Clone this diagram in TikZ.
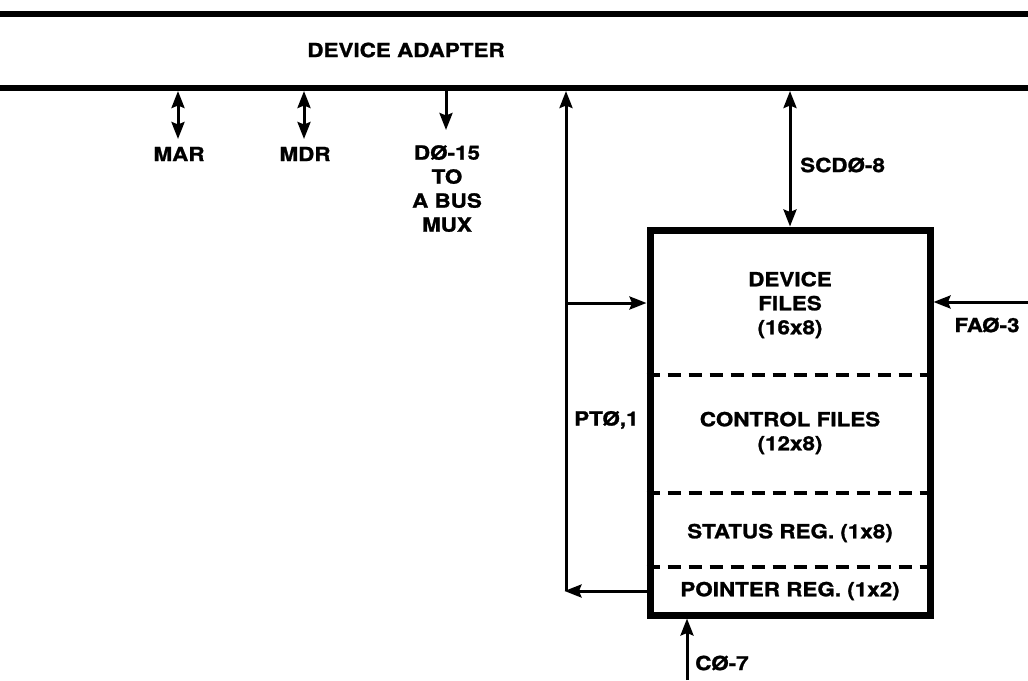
\documentclass[tikz,border=0pt]{standalone}
\usepackage{fontspec}
\setmainfont{TeX Gyre Heros}[FakeStretch=1.15, FakeBold=1.2]
\usetikzlibrary{arrows.meta, positioning}

\begin{document}
\begin{tikzpicture}[
    x=1pt, y=-1pt,
    font=\fontsize{19.5}{24}\selectfont\bfseries,
    bus/.style={line width=6pt},
    sig/.style={-{Stealth[length=17pt,width=13pt,inset=2.5pt]}, line width=3pt},
    dsig/.style={{Stealth[length=17pt,width=13pt,inset=2.5pt]}-{Stealth[length=17pt,width=13pt,inset=2.5pt]}, line width=3pt},
    regbox/.style={draw, line width=7pt, minimum width=280pt, minimum height=385pt, inner sep=0pt},
    sep/.style={line width=3.5pt, dash pattern=on 13pt off 8pt},
    lbl/.style={align=center, inner sep=0pt},
]
\useasboundingbox (0,0) rectangle (1028,680);
% Adapter bus: two heavy rails, title in between
\coordinate (railAl) at (0,14);   \coordinate (railAr) at (1028,14);
\coordinate (railBl) at (0,88);   \coordinate (railBr) at (1028,88);
\draw[bus] (railAl) -- (railAr);
\draw[bus] (railBl) -- (railBr);
\node[lbl] (title) at (406,50) {DEVICE ADAPTER};

% Taps hanging off the lower rail
\coordinate (tapmar) at (178,91);
\coordinate (tapmdr) at (304,91);
\coordinate (tapd)   at (446,91);
\node[lbl] (mar) at (179,154) {MAR};
\node[lbl] (mdr) at (305,154) {MDR};
\node[lbl, anchor=north] (dbus) at (447,145) {DØ-15\\TO\\A BUS\\MUX};
\draw[dsig] (tapmar) -- (178,139);
\draw[dsig] (tapmdr) -- (304,139);
\draw[sig]  (tapd) -- (446,130);

% Register file
\node[regbox] (regs) at (790,422.5) {};
\draw[sep] (regs.west |- 0,375) -- (regs.east |- 0,375);
\draw[sep] (regs.west |- 0,493) -- (regs.east |- 0,493);
\draw[sep] (regs.west |- 0,567) -- (regs.east |- 0,567);
\node[lbl] (devf)  at (790,305) {DEVICE\\FILES\\(16x8)};
\node[lbl] (ctlf)  at (790,433) {CONTROL FILES\\(12x8)};
\node[lbl] (stat)  at (790,533) {STATUS REG. (1x8)};
\node[lbl] (point) at (790,591) {POINTER REG. (1x2)};

% SCD link between rail and register file
\coordinate (tapscd) at (790,91);
\draw[dsig] (tapscd) -- (regs.north);
\node[lbl, anchor=west] (scd) at (800,165) {SCDØ-8};

% Pointer loop on the left
\coordinate (tappt) at (566,91);
\coordinate (ptlow) at (566,591);
\coordinate (ptmid) at (566,303);
\draw[sig] (ptlow) -- (tappt);
\draw[sig] (regs.west |- ptlow) -- ([xshift=-1.5pt]ptlow);
\draw[sig] (ptmid) -- (regs.west |- ptmid);
\node[lbl, anchor=west] (pt) at (574,420) {PTØ,1};

% Inputs from the right and from below
\coordinate (fain) at (1028,302);
\draw[sig] (fain) -- (regs.east |- fain);
\node[lbl] (fa) at (987,325) {FAØ-3};
\coordinate (cin) at (687,680);
\draw[sig] (cin) -- (regs.south -| cin);
\node[lbl, anchor=west] (cc) at (695,663) {CØ-7};
\end{tikzpicture}
\end{document}
